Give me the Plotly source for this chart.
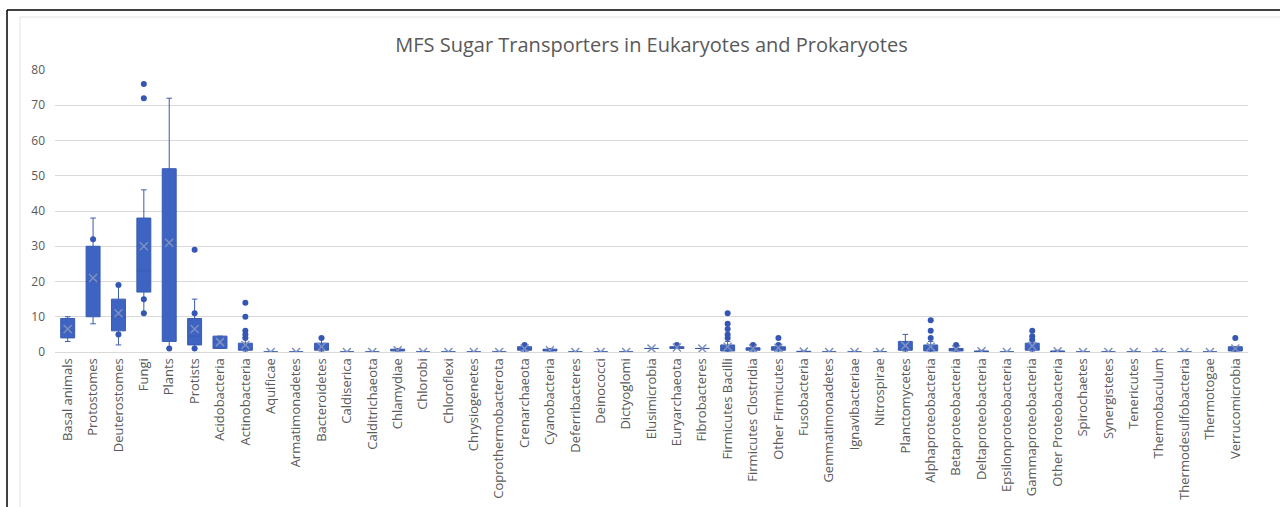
import plotly.graph_objects as go

categories = [
    "Basal animals", "Protostomes", "Deuterostomes", "Fungi", "Plants", "Protists",
    "Acidobacteria", "Actinobacteria", "Aquificae", "Armatimonadetes", "Bacteroidetes",
    "Caldiserica", "Calditrichaeota", "Chlamydiae", "Chlorobi", "Chloroflexi",
    "Chrysiogenetes", "Coprothermobacterota", "Crenarchaeota", "Cyanobacteria",
    "Deferribacteres", "Deinococci", "Dictyoglomi", "Elusimicrobia", "Euryarchaeota",
    "Fibrobacteres", "Firmicutes Bacilli", "Firmicutes Clostridia", "Other Firmicutes",
    "Fusobacteria", "Gemmatimonadetes", "Ignavibacteriae", "Nitrospirae",
    "Planctomycetes", "Alphaproteobacteria", "Betaproteobacteria", "Deltaproteobacteria",
    "Epsilonproteobacteria", "Gammaproteobacteria", "Other Proteobacteria",
    "Spirochaetes", "Synergistetes", "Tenericutes", "Thermobaculum",
    "Thermodesulfobacteria", "Thermotogae", "Verrucomicrobia",
]

q1 = [4, 10, 6, 17, 3, 2, 1, 0.5, 0, 0, 0.5, 0, 0, 0.3, 0, 0, 0, 0, 0.5, 0.3, 0, 0, 0, 1, 1, 1,
      0.3, 0.5, 0.5, 0, 0, 0, 0, 0.5, 0.3, 0.3, 0, 0, 0.5, 0, 0, 0, 0, 0, 0, 0, 0.3]
median = [6, 20, 10, 23, 31, 4.5, 3, 1, 0, 0, 1, 0, 0, 0.5, 0, 0, 0, 0, 1, 0.5, 0, 0, 0, 1, 1, 1,
          1, 1, 1, 0, 0, 0, 0, 1, 1, 0.5, 0, 0, 1, 0, 0, 0, 0, 0, 0, 0, 0.5]
q3 = [9.5, 30, 15, 38, 52, 9.5, 4.5, 2.5, 0, 0, 2.5, 0, 0, 0.8, 0, 0, 0, 0, 1.5, 0.8, 0, 0, 0, 1, 1.5, 1,
      2, 1.2, 1.5, 0.2, 0, 0, 0, 3, 2, 1, 0.3, 0, 2.5, 0.3, 0, 0, 0, 0, 0, 0, 1.5]
lower = [3, 8, 2, 11, 1, 1, 1, 0, 0, 0, 0, 0, 0, 0, 0, 0, 0, 0, 0, 0, 0, 0, 0, 1, 1, 1,
         0, 0, 0, 0, 0, 0, 0, 0, 0, 0, 0, 0, 0, 0, 0, 0, 0, 0, 0, 0, 0]
upper = [10, 38, 19, 46, 72, 15, 4.5, 4, 0, 0, 4, 0, 0, 1, 0, 0, 0, 0, 2, 1, 0, 0, 0, 1, 2, 1,
         3, 2, 2, 0.3, 0, 0, 0, 5, 3, 1.5, 0.5, 0, 3.5, 0.5, 0, 0, 0, 0, 0, 0, 1.5]
mean = [6.5, 21, 11, 30, 31, 6.5, 2.8, 2, 0, 0, 1.5, 0, 0, 0.5, 0, 0, 0, 0, 1, 0.5, 0, 0, 0, 1, 1.3, 1,
        1.5, 1, 1.2, 0.1, 0, 0, 0, 1.8, 1.5, 0.8, 0.2, 0, 1.7, 0.2, 0, 0, 0, 0, 0, 0, 1]
points = [
    [], [32], [19, 5], [15, 11, 72, 76], [1], [11, 29, 1], [], [14, 10, 6, 5, 4], [], [], [4],
    [], [], [], [], [], [], [], [2], [], [], [], [], [], [2], [],
    [11, 8, 6.5, 5, 4], [2], [4, 2], [], [], [], [], [], [9, 6, 4], [2], [], [], [6, 4.5, 3.5], [],
    [], [], [], [], [], [], [4],
]

pt_x = [c for c, ps in zip(categories, points) for _ in ps]
pt_y = [v for ps in points for v in ps]

BLUE = "#3D64C2"
fig = go.Figure()
fig.add_trace(go.Box(
    x=categories, q1=q1, median=median, q3=q3,
    lowerfence=lower, upperfence=upper,
    fillcolor=BLUE, line=dict(color="#3A5BAE", width=1),
    width=0.55, whiskerwidth=0.4, boxpoints=False, showlegend=False,
    hoverinfo="skip",
))
fig.add_trace(go.Scatter(
    x=pt_x, y=pt_y, mode="markers",
    marker=dict(color="#3557B3", size=6), showlegend=False, hoverinfo="skip",
))
fig.add_trace(go.Scatter(
    x=categories, y=mean, mode="markers",
    marker=dict(symbol="x-thin-open", size=8, color="#7F90C2",
                line=dict(color="#7F90C2", width=1.5)),
    showlegend=False, hoverinfo="skip",
))

W, H = 1280, 507
L, R, T, B = 55, 32, 70, 155
pw, ph = W - L - R, H - T - B

def px(x):
    return (x - L) / pw

def py(y):
    return (H - B - y) / ph

shapes = [
    dict(type="rect", xref="paper", yref="paper", x0=px(20), x1=px(1290), y0=py(520), y1=py(17),
         line=dict(color="#E3E3E3", width=1), fillcolor="rgba(0,0,0,0)", layer="below"),
    dict(type="line", xref="paper", yref="paper", x0=px(7), x1=px(1290), y0=py(10), y1=py(10),
         line=dict(color="black", width=1.5)),
    dict(type="line", xref="paper", yref="paper", x0=px(7), x1=px(7), y0=py(10), y1=py(520),
         line=dict(color="black", width=1.5)),
]

fig.update_layout(
    width=W, height=H,
    margin=dict(l=L, r=R, t=T, b=B, pad=0),
    paper_bgcolor="white", plot_bgcolor="white",
    font=dict(family="Open Sans", color="#595959", size=12),
    title=dict(text="MFS Sugar Transporters in Eukaryotes and Prokaryotes",
               x=0.5, xref="paper", xanchor="center", y=1 - 45 / H, yanchor="middle",
               font=dict(family="Open Sans", size=20, color="#595959")),
    xaxis=dict(type="category", tickangle=-90, showgrid=False, showline=True,
               linecolor="#D9D9D9", linewidth=1, ticks="", tickfont=dict(size=13),
               automargin=False, range=[-0.5, len(categories) - 0.5]),
    yaxis=dict(range=[0, 80], dtick=10, showgrid=True, gridcolor="#D9D9D9", gridwidth=1,
               zeroline=False, showline=False, ticks="", tickfont=dict(size=12),
               automargin=False, ticklabelstandoff=9),
    shapes=shapes,
)

fig.write_html("out.html")
